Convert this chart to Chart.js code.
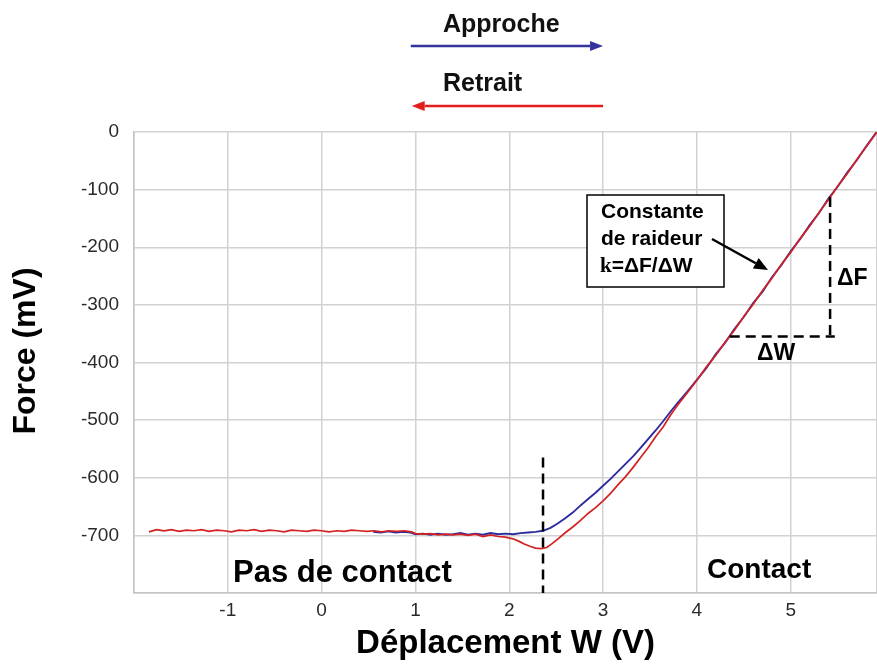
<!DOCTYPE html>
<html>
<head>
<meta charset="utf-8">
<script src="https://cdn.jsdelivr.net/npm/chart.js@4.4.1/dist/chart.umd.min.js"></script>
<style>
  html, body { margin: 0; padding: 0; background: #ffffff; }
  canvas { display: block; }
</style>
</head>
<body>
<canvas id="c" width="877" height="664"></canvas>
<script>
// Retrait (withdrawal) curve: displacement W (V) and force (mV)
const wRetrait = [
  -1.84, -1.76, -1.68, -1.6, -1.52, -1.44, -1.36, -1.28, -1.2, -1.12,
  -1.04, -0.96, -0.88, -0.8, -0.72, -0.64, -0.56, -0.48, -0.4, -0.32,
  -0.24, -0.16, -0.08, 0, 0.08, 0.16, 0.24, 0.32, 0.4, 0.48,
  0.56, 0.64, 0.72, 0.8, 0.88, 0.96, 1.0, 1.08, 1.16, 1.24,
  1.32, 1.4, 1.48, 1.56, 1.64, 1.72, 1.8, 1.88, 1.96, 2.04,
  2.1, 2.16, 2.22, 2.28, 2.34, 2.4, 2.46, 2.52, 2.6, 2.68,
  2.76, 2.84, 2.92, 3.0, 3.08, 3.16, 3.24, 3.32, 3.4, 3.48,
  3.56, 3.64, 3.72, 3.8, 3.9, 4.0, 4.1, 4.2, 4.3, 4.4,
  4.5, 4.6, 4.7, 4.8, 4.9, 5.0, 5.1, 5.2, 5.3, 5.4,
  5.5, 5.6, 5.7, 5.8, 5.92
];
const fRetrait = [
  -694, -690, -692, -690, -693, -691, -692, -690, -693, -691,
  -692, -694, -691, -692, -690, -693, -691, -692, -694, -691,
  -692, -693, -691, -692, -694, -692, -693, -691, -692, -693,
  -692, -694, -692, -693, -692, -694, -697, -698, -697, -699,
  -698, -699, -698, -700, -698, -702, -699, -702, -703, -706,
  -710, -715, -719, -722, -723, -721, -714, -706, -695, -685,
  -674, -662, -652, -640, -627, -612, -598, -582, -565, -548,
  -529, -512, -491, -473, -452, -431, -408, -388, -365, -344,
  -320, -299, -275, -254, -230, -209, -185, -164, -140, -118,
  -94, -73, -49, -27, 0
];

// Approche (approach) curve
const wApproche = [
  0.55, 0.63, 0.71, 0.79, 0.87, 0.95, 1.0, 1.08, 1.16, 1.24,
  1.32, 1.4, 1.48, 1.56, 1.64, 1.72, 1.8, 1.88, 1.96, 2.04,
  2.12, 2.2, 2.28, 2.36, 2.44, 2.52, 2.6, 2.68, 2.76, 2.84,
  2.92, 3.0, 3.08, 3.16, 3.24, 3.32, 3.4, 3.48, 3.56, 3.64,
  3.72, 3.8, 3.9, 4.0, 4.1, 4.2, 4.3, 4.4, 4.5, 4.6,
  4.7, 4.8, 4.9, 5.0, 5.1, 5.2, 5.3, 5.4, 5.5, 5.6,
  5.7, 5.8, 5.92
];
const fApproche = [
  -694, -695, -693, -695, -694, -695, -698, -697, -699, -697,
  -699, -698, -696, -699, -697, -699, -696, -698, -697, -698,
  -696, -695, -694, -692, -687, -679, -670, -660, -648, -637,
  -626, -614, -602, -589, -576, -563, -548, -533, -518, -502,
  -485, -469, -450, -430, -410, -386, -366, -342, -321, -297,
  -277, -252, -231, -207, -186, -162, -141, -116, -95, -71,
  -50, -26, 1
];

// Tick labels shown on each axis
const xTickLabels = [-1, 0, 1, 2, 3, 4, 5];
const yTickLabels = [0, -100, -200, -300, -400, -500, -600, -700];

// Contact point and stiffness construction (W in V, F in mV)
const contactW = 2.36;
const contactTopF = -565;
const deltaW = [4.35, 5.47];
const deltaF = [-113, -355];
const deltaFW = 5.42;

const toPoints = (ws, fs) => ws.map((w, i) => ({ x: w, y: fs[i] }));

const SANS = "'Liberation Sans', Arial, sans-serif";

function arrow(ctx, x1, y1, x2, y2, color, width, headLen, headHalf) {
  const ang = Math.atan2(y2 - y1, x2 - x1);
  const bx = x2 - headLen * Math.cos(ang);
  const by = y2 - headLen * Math.sin(ang);
  ctx.save();
  ctx.strokeStyle = color;
  ctx.fillStyle = color;
  ctx.lineWidth = width;
  ctx.setLineDash([]);
  ctx.beginPath();
  ctx.moveTo(x1, y1);
  ctx.lineTo(bx, by);
  ctx.stroke();
  ctx.beginPath();
  ctx.moveTo(x2, y2);
  ctx.lineTo(bx + headHalf * Math.sin(ang), by - headHalf * Math.cos(ang));
  ctx.lineTo(bx - headHalf * Math.sin(ang), by + headHalf * Math.cos(ang));
  ctx.closePath();
  ctx.fill();
  ctx.restore();
}

const annotations = {
  id: 'annotations',
  afterDraw(chart) {
    const { ctx, scales: { x, y }, chartArea } = chart;
    ctx.save();

    // y axis title, rotated
    ctx.save();
    ctx.translate(26, 351);
    ctx.rotate(-Math.PI / 2);
    ctx.fillStyle = '#000';
    ctx.font = 'bold 32px ' + SANS;
    ctx.textAlign = 'center';
    ctx.textBaseline = 'middle';
    ctx.fillText('Force (mV)', 0, 0);
    ctx.restore();

    // direction legend above the plot
    ctx.fillStyle = '#111';
    ctx.textAlign = 'left';
    ctx.textBaseline = 'alphabetic';
    ctx.font = 'bold 25px ' + SANS;
    ctx.fillText('Approche', 443, 32);
    ctx.fillText('Retrait', 443, 91);
    arrow(ctx, x.getPixelForValue(0.95), 46, x.getPixelForValue(3.0), 46, '#34349c', 2.5, 13, 5);
    arrow(ctx, x.getPixelForValue(3.0), 106, x.getPixelForValue(0.96), 106, '#e31c1c', 2.5, 13, 5);

    // dashed marker at the contact point
    ctx.strokeStyle = '#000';
    ctx.lineWidth = 2.5;
    ctx.setLineDash([10, 6]);
    ctx.beginPath();
    ctx.moveTo(x.getPixelForValue(contactW), y.getPixelForValue(contactTopF));
    ctx.lineTo(x.getPixelForValue(contactW), chartArea.bottom);
    ctx.stroke();

    // ΔW / ΔF construction
    ctx.beginPath();
    ctx.moveTo(x.getPixelForValue(deltaW[0]), y.getPixelForValue(deltaF[1]));
    ctx.lineTo(x.getPixelForValue(deltaW[1]), y.getPixelForValue(deltaF[1]));
    ctx.moveTo(x.getPixelForValue(deltaFW), y.getPixelForValue(deltaF[0]));
    ctx.lineTo(x.getPixelForValue(deltaFW), y.getPixelForValue(deltaF[1]));
    ctx.stroke();
    ctx.setLineDash([]);

    ctx.fillStyle = '#000';
    ctx.font = 'bold 23px ' + SANS;
    ctx.fillText('\u0394F', 837, 285);
    ctx.fillText('\u0394W', 757, 360);

    // stiffness label box
    ctx.fillStyle = '#fff';
    ctx.fillRect(587, 195, 137, 92);
    ctx.strokeStyle = '#000';
    ctx.lineWidth = 1.5;
    ctx.strokeRect(587, 195, 137, 92);
    ctx.fillStyle = '#000';
    ctx.font = 'bold 21px ' + SANS;
    ctx.fillText('Constante', 601, 218);
    ctx.fillText('de raideur', 601, 245);
    ctx.font = "bold 21px 'Liberation Serif', serif";
    ctx.fillText('k', 600, 272);
    const kw = ctx.measureText('k').width;
    ctx.font = 'bold 21px ' + SANS;
    ctx.fillText('=\u0394F/\u0394W', 600 + kw, 272);
    arrow(ctx, 712, 239, 768, 270, '#000', 2.5, 14, 6);

    // regions
    ctx.font = 'bold 31px ' + SANS;
    ctx.fillText('Pas de contact', 233, 582);
    ctx.font = 'bold 28px ' + SANS;
    ctx.fillText('Contact', 707, 578);

    ctx.restore();
  }
};

new Chart(document.getElementById('c'), {
  type: 'scatter',
  data: {
    datasets: [
      {
        label: 'Retrait',
        data: toPoints(wRetrait, fRetrait),
        showLine: true,
        borderColor: '#d42222',
        borderWidth: 1.7,
        pointRadius: 0,
        tension: 0
      },
      {
        label: 'Approche',
        data: toPoints(wApproche, fApproche),
        showLine: true,
        borderColor: '#2c2c9e',
        borderWidth: 1.9,
        pointRadius: 0,
        tension: 0
      }
    ]
  },
  options: {
    responsive: false,
    animation: false,
    layout: { padding: { top: 132, left: 0, right: 0, bottom: 0 } },
    plugins: { legend: { display: false }, tooltip: { enabled: false } },
    scales: {
      x: {
        type: 'linear',
        min: -2,
        max: 5.92,
        afterFit: (s) => { s.height = 71; s.paddingLeft = 0; s.paddingRight = 0; },
        ticks: {
          stepSize: 1,
          autoSkip: false,
          maxRotation: 0,
          padding: 6,
          color: '#2a2a2a',
          font: { family: SANS, size: 19 },
          callback: (v) => xTickLabels.includes(v) ? String(v) : ''
        },
        grid: { color: '#d2d2d2', lineWidth: 1.5, drawTicks: false, tickLength: 0 },
        border: { color: '#c4c4c4', width: 1.5 },
        title: {
          display: true,
          text: 'Déplacement W (V)',
          color: '#000',
          font: { family: SANS, size: 33, weight: 'bold' },
          padding: { top: 0, bottom: 0 }
        }
      },
      y: {
        type: 'linear',
        min: -800,
        max: 0,
        afterFit: (s) => { s.width = 134; },
        ticks: {
          stepSize: 100,
          padding: 15,
          color: '#2a2a2a',
          font: { family: SANS, size: 19 },
          callback: (v) => yTickLabels.includes(v) ? String(v) : ''
        },
        grid: { color: '#d2d2d2', lineWidth: 1.5, drawTicks: false, tickLength: 0 },
        border: { color: '#c4c4c4', width: 1.5 },
        title: { display: false }
      }
    }
  },
  plugins: [annotations]
});
</script>
</body>
</html>
